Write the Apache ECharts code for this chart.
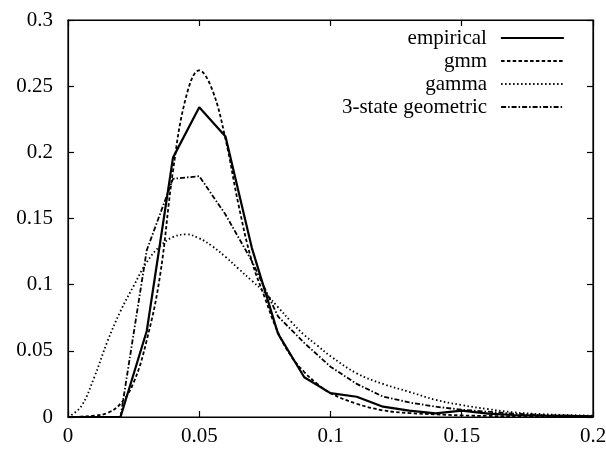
<!DOCTYPE html>
<html>
<head>
<meta charset="utf-8">
<script src="https://cdn.jsdelivr.net/npm/echarts@6/dist/echarts.min.js"></script>
<style>
  html, body { margin: 0; padding: 0; background: #fff; }
  #chart { width: 606px; height: 451px; }
</style>
</head>
<body>
<div id="chart"></div>
<script>
// density curves: empirical vs fitted models
const empiricalX = [0, 0.01, 0.02, 0.03, 0.04, 0.05, 0.06, 0.07, 0.08, 0.09, 0.10,
  0.11, 0.12, 0.13, 0.14, 0.15, 0.16, 0.17, 0.18, 0.19, 0.20]
const empiricalY = [0, 0, 0, 0.065, 0.196, 0.234, 0.212, 0.128, 0.063, 0.030, 0.018,
  0.0153, 0.0078, 0.0048, 0.0028, 0.0048, 0.0025, 0.0015, 0.001, 0.0008, 0.0005]

const gmmX = [0, 0.005, 0.01, 0.015, 0.02, 0.025, 0.03, 0.035, 0.04, 0.045, 0.05,
  0.055, 0.06, 0.065, 0.07, 0.075, 0.08, 0.085, 0.09, 0.095, 0.10,
  0.11, 0.12, 0.13, 0.14, 0.15, 0.16, 0.18, 0.20]
const gmmY = [0, 0.0003, 0.001, 0.003, 0.010, 0.026, 0.058, 0.106, 0.186, 0.242, 0.262,
  0.247, 0.210, 0.160, 0.118, 0.090, 0.064, 0.046, 0.034, 0.025, 0.018,
  0.010, 0.005, 0.003, 0.002, 0.0012, 0.0008, 0.0003, 0.0001]

const gammaX = [0, 0.005, 0.01, 0.015, 0.02, 0.025, 0.03, 0.035, 0.04, 0.045, 0.05,
  0.055, 0.06, 0.065, 0.07, 0.075, 0.08, 0.085, 0.09, 0.095, 0.10,
  0.11, 0.12, 0.13, 0.14, 0.15, 0.16, 0.17, 0.18, 0.19, 0.20]
const gammaY = [0, 0.008, 0.030, 0.057, 0.080, 0.099, 0.117, 0.129, 0.136, 0.138, 0.135,
  0.129, 0.121, 0.112, 0.103, 0.094, 0.083, 0.072, 0.062, 0.054, 0.046,
  0.033, 0.025, 0.019, 0.013, 0.009, 0.006, 0.0035, 0.0022, 0.0015, 0.001]

const geoX = [0, 0.01, 0.02, 0.03, 0.04, 0.05, 0.06, 0.07, 0.08, 0.09, 0.10,
  0.11, 0.12, 0.13, 0.14, 0.15, 0.16, 0.17, 0.18, 0.19, 0.20]
const geoY = [0, 0, 0, 0.126, 0.180, 0.182, 0.153, 0.118, 0.076, 0.056, 0.038,
  0.025, 0.0154, 0.011, 0.0078, 0.0055, 0.004, 0.0025, 0.0015, 0.001, 0.0005]

const names = ['empirical', 'gmm', 'gamma', '3-state geometric']

const font = 'Liberation Serif'
const pairs = (xs, ys) => xs.map((x, i) => [x, ys[i]])
const fmt = v => String(parseFloat(v.toFixed(3)))

const styles = [
  { width: 2.2, type: 'solid' },
  { width: 1.8, type: [3.5, 2.3] },
  { width: 1.8, type: [1.5, 2.5] },
  { width: 1.8, type: [5, 2, 1.5, 2] }
]

const chart = echarts.init(document.getElementById('chart'))

// fresh objects per axis (gnuplot-like box with inward ticks on all sides)
function makeAxis(position, max, withLabels, margin) {
  return {
    type: 'value',
    position,
    min: 0,
    max,
    interval: 0.05,
    axisLine: { show: true, onZero: false, lineStyle: { color: '#000', width: 1.2 } },
    axisTick: { show: true, inside: true, length: 6, lineStyle: { color: '#000', width: 1.2 } },
    splitLine: { show: false },
    // mirror axes keep (invisible) labels so they are laid out like the main ones
    axisLabel: {
      show: true, fontFamily: font, fontSize: 21, margin, formatter: fmt,
      color: withLabels ? '#000' : 'rgba(0,0,0,0)'
    }
  }
}

const legendRows = [38, 61, 84, 107]

const option = {
  animation: false,
  backgroundColor: '#fff',
  grid: {
    left: 68, right: 13, top: 20, bottom: 34,
    outerBoundsMode: 'none', containLabel: false,
    show: true, borderColor: '#000', borderWidth: 1.2, backgroundColor: 'rgba(0,0,0,0)'
  },
  xAxis: [makeAxis('bottom', 0.2, true, 9), makeAxis('top', 0.2, false, 8)],
  yAxis: [makeAxis('left', 0.3, true, 15), makeAxis('right', 0.3, false, 8)],
  legend: names.map((n, i) => ({
    data: [n],
    orient: 'vertical',
    align: 'right',
    right: 41,
    top: legendRows[i] - 11,
    padding: 0,
    itemWidth: 63,
    itemHeight: 10,
    selectedMode: false,
    itemStyle: { color: 'rgba(0,0,0,0)', borderColor: 'rgba(0,0,0,0)', borderWidth: 0 },
    lineStyle: { color: '#000', width: styles[i].width, type: styles[i].type },
    textStyle: { fontFamily: font, fontSize: 21, color: '#000', lineHeight: 22, padding: [0, 9, 0, 0] }
  })),
  series: [
    { name: names[0], data: pairs(empiricalX, empiricalY) },
    { name: names[1], data: pairs(gmmX, gmmY), smooth: 0.4 },
    { name: names[2], data: pairs(gammaX, gammaY), smooth: 0.4 },
    // same scales as the main axes; attaching it makes the mirror axes render
    { name: names[3], data: pairs(geoX, geoY), xAxisIndex: 1, yAxisIndex: 1 }
  ].map((s, i) => ({
    type: 'line',
    symbol: 'none',
    z: 10 - i,
    lineStyle: { color: '#000', width: styles[i].width, type: styles[i].type },
    itemStyle: { color: '#000' },
    ...s
  }))
}

chart.setOption(option)
</script>
</body>
</html>
